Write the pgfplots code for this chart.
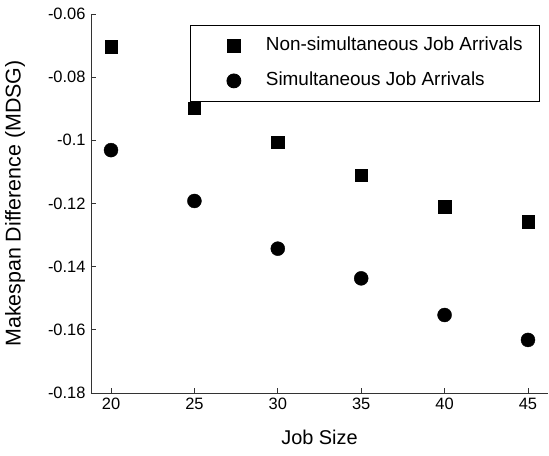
\documentclass[border=0pt]{standalone}
\usepackage{pgfplots}
\pgfplotsset{compat=1.18}
\usepackage{fontspec}
\setmainfont{Liberation Sans}
\pgfplotsset{
  legend image code/.code={\path[draw=none,fill=none] (0bp,0bp) -- (44bp,0bp); \draw[#1] plot coordinates {(29bp,0bp)};}
}
\begin{document}
\begin{tikzpicture}
\begin{axis}[
  scale only axis,
  width=457bp, height=379bp,
  xmin=18.8, xmax=46.2,
  ymin=-0.18, ymax=-0.06,
  axis x line*=bottom, axis y line*=left,
  axis line style={-, black!80, line width=0.9bp},
  xtick={20,25,30,35,40,45},
  ytick={-0.18,-0.16,-0.14,-0.12,-0.1,-0.08,-0.06},
  yticklabels={-0.18,-0.16,-0.14,-0.12,-0.1,-0.08,-0.06},
  xticklabels={20,25,30,35,40,45},
  tick align=inside,
  major tick length=5bp,
  tick style={black!80, line width=0.8bp},
  ticklabel style={font=\fontsize{16.5}{19}\selectfont},
  yticklabel style={xshift=-2bp},
  xticklabel style={yshift=-2bp},
  xlabel={Job Size},
  ylabel={Makespan Difference (MDSG)},
  xlabel style={font=\fontsize{20}{24}\selectfont, yshift=-13bp},
  ylabel style={font=\fontsize{21.5}{25}\selectfont, yshift=16bp},
  legend style={
    at={(rel axis cs:0.9825,0.971)}, anchor=north east,
    draw=black, line width=0.8bp,
    inner xsep=15bp, inner ysep=10bp,
    font=\fontsize{19}{22}\selectfont,
    nodes={inner sep=2bp, text height=13bp, text depth=4bp},
    row sep=14bp, column sep=15bp,
  },
  legend cell align=left,
]
\addplot[only marks, mark=square*, mark size=6.2bp, black]
  coordinates {(20,-0.0704) (25,-0.0898) (30,-0.1005) (35,-0.1110) (40,-0.1210) (45,-0.1258)};
\addlegendentry{Non-simultaneous Job Arrivals}
\addplot[only marks, mark=*, mark size=7bp, black]
  coordinates {(20,-0.1031) (25,-0.1192) (30,-0.1343) (35,-0.1437) (40,-0.1553) (45,-0.1632)};
\addlegendentry{Simultaneous Job Arrivals}
\end{axis}
\pgfresetboundingbox
\path ([shift={(-91bp,-63bp)}]current axis.south west) rectangle ([shift={(1bp,14bp)}]current axis.north east);
\end{tikzpicture}
\end{document}
